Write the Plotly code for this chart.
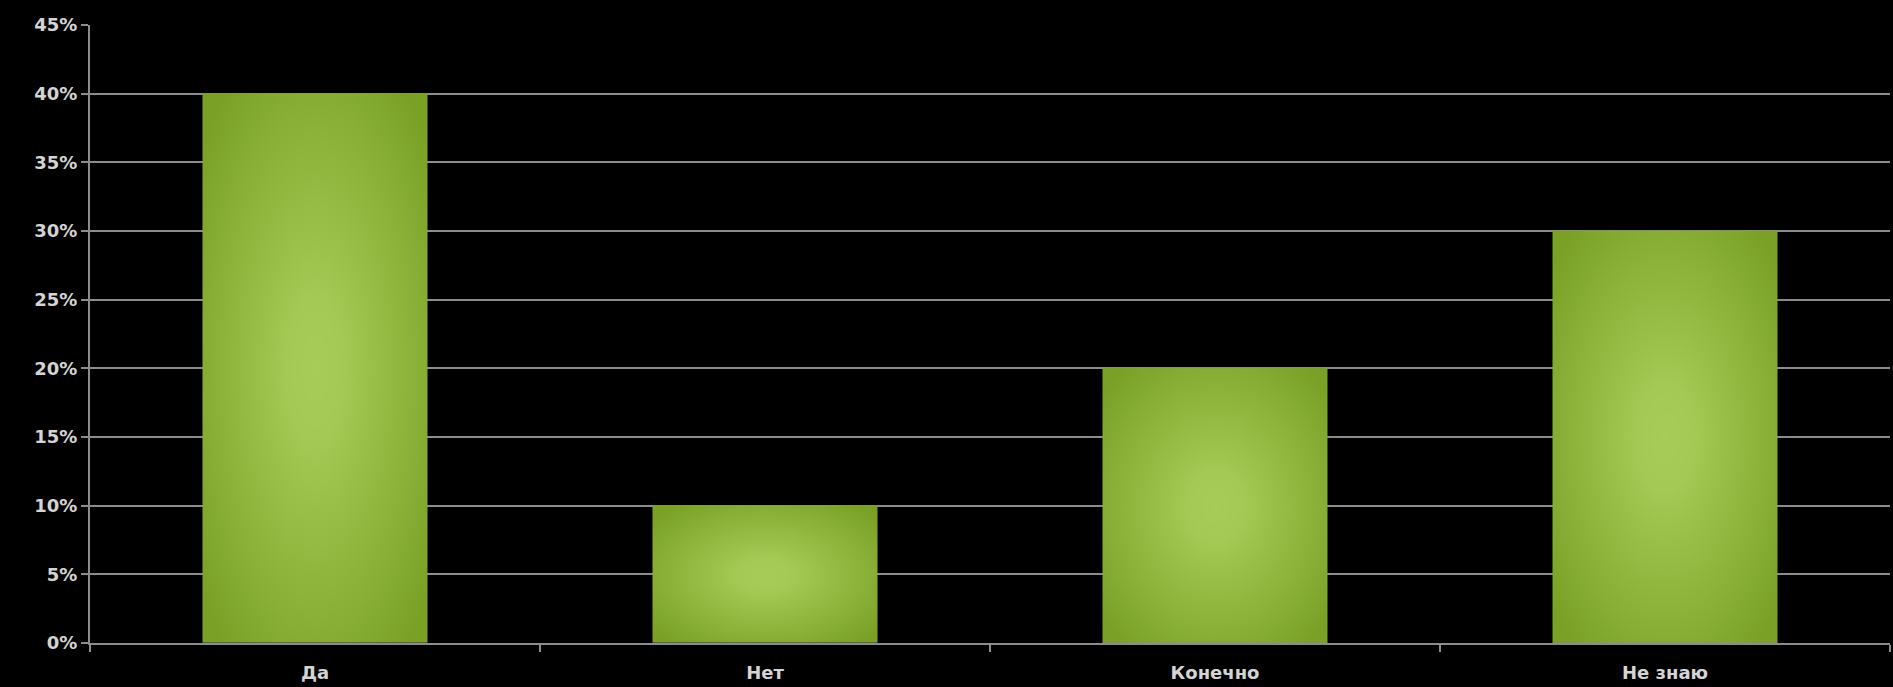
import numpy as np
import plotly.graph_objects as go

categories = ["Да", "Нет", "Конечно", "Не знаю"]
values = [0.40, 0.10, 0.20, 0.30]
y_tick_vals = [0, 0.05, 0.10, 0.15, 0.20, 0.25, 0.30, 0.35, 0.40, 0.45]
y_tick_text = ["0%", "5%", "10%", "15%", "20%", "25%", "30%", "35%", "40%", "45%"]

EDGE = "rgb(122,161,38)"
CENTER = "rgb(168,204,88)"
BAR_WIDTH = 0.5
positions = list(range(len(categories)))

fig = go.Figure()

# gradient fill of each bar (radial shading), placed through the axes from the values
NX, NY = 40, 60
for pos, v in zip(positions, values):
    xe = np.linspace(pos - BAR_WIDTH / 2, pos + BAR_WIDTH / 2, NX + 1)
    ye = np.linspace(0, v, NY + 1)
    xc = (xe[:-1] + xe[1:]) / 2
    yc = (ye[:-1] + ye[1:]) / 2
    gx, gy = np.meshgrid((xc - pos) / (BAR_WIDTH / 2), (yc - v / 2) / (v / 2))
    r = np.sqrt(gx ** 2 + gy ** 2)
    fig.add_trace(go.Heatmap(
        x=xe, y=ye, z=r,
        zmin=0, zmax=1.3,
        zsmooth="best",
        colorscale=[[0, CENTER], [0.2, "rgb(164,201,84)"], [1, EDGE]],
        showscale=False,
        hoverinfo="skip",
    ))

# the bars themselves (transparent fill on top of the shading, for hover)
fig.add_trace(go.Bar(
    x=positions,
    y=values,
    width=BAR_WIDTH,
    marker=dict(color="rgba(0,0,0,0)", line=dict(width=0)),
    hovertext=categories,
    showlegend=False,
))

font = dict(family="DejaVu Sans", size=18, color="#d4d4d4", weight="bold")

fig.update_layout(
    width=1893,
    height=687,
    paper_bgcolor="black",
    plot_bgcolor="black",
    margin=dict(l=90, r=3, t=25, b=44),
    font=font,
    showlegend=False,
    xaxis=dict(
        range=[-0.5, 3.5],
        tickvals=positions,
        ticktext=categories,
        ticks="",
        ticklabelstandoff=12,
        minor=dict(tick0=-0.5, dtick=1, ticks="outside", ticklen=7,
                   tickwidth=2, tickcolor="#8c8c8c", showgrid=False),
        showline=True,
        linecolor="#8c8c8c",
        linewidth=2,
        showgrid=False,
        zeroline=False,
        tickfont=font,
        fixedrange=True,
    ),
    yaxis=dict(
        range=[0, 0.45],
        tickvals=y_tick_vals,
        ticktext=y_tick_text,
        ticks="outside",
        ticklen=7,
        tickwidth=2,
        tickcolor="#8c8c8c",
        showline=True,
        linecolor="#8c8c8c",
        linewidth=2,
        showgrid=True,
        gridcolor="#8c8c8c",
        gridwidth=2,
        zeroline=False,
        tickfont=font,
        fixedrange=True,
        layer="below traces",
    ),
)

fig.write_html(
    "out.html",
    config={"displayModeBar": False},
    post_script="document.body.style.margin='0';document.body.style.background='black';",
)
